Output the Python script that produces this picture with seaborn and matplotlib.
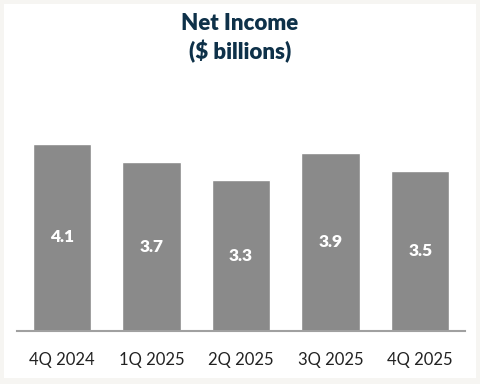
import matplotlib
matplotlib.use("Agg")
from matplotlib import pyplot as plt
from matplotlib.patches import Rectangle
import seaborn as sns
import pandas as pd

quarters = ["4Q 2024", "1Q 2025", "2Q 2025", "3Q 2025", "4Q 2025"]
net_income = [4.1, 3.7, 3.3, 3.9, 3.5]
bar_labels = ["4.1", "3.7", "3.3", "3.9", "3.5"]

df = pd.DataFrame({"quarter": quarters, "value": net_income})

sns.set_style("white")
plt.rcParams['font.family'] = ['Lato', 'DejaVu Sans']

fig = plt.figure(figsize=(4.8, 3.84), dpi=100, facecolor="#f6f5f2")
# white card behind everything
fig.patches.append(Rectangle((4 / 480, 6 / 384), 472 / 480, 374 / 384,
                             transform=fig.transFigure, facecolor="white",
                             edgecolor="none", zorder=-10))

ax = fig.add_axes([17 / 480, 1 - 331 / 384, 448 / 480, 231 / 384])
ax.set_zorder(1)
ax.set_facecolor("none")
sns.barplot(data=df, x="quarter", y="value", color="#8a8a8a", saturation=1,
            width=0.65, ax=ax)
ax.set_xlim(-0.5, 4.5)
ax.set_ylim(0, 5.06)

for i, (v, lab) in enumerate(zip(net_income, bar_labels)):
    ax.text(i, v / 2, lab, ha="center", va="center", color="white",
            fontsize=12.5, fontweight="heavy")

for s in ["top", "right", "left"]:
    ax.spines[s].set_visible(False)
ax.spines["bottom"].set_color("#a0a0a0")
ax.spines["bottom"].set_linewidth(1.5)
ax.set_yticks([])
ax.set_xlabel("")
ax.set_ylabel("")
ax.tick_params(axis="x", length=0, pad=15, labelsize=12, labelcolor="#222222")

fig.text(0.5, 1 - 23 / 384, "Net Income", ha="center", va="center",
         fontsize=16, fontweight="heavy", color="#0e3149", zorder=2)
fig.text(0.5, 1 - 52 / 384, "($ billions)", ha="center", va="center",
         fontsize=16, fontweight="heavy", color="#0e3149", zorder=2)

fig.savefig("out.png", dpi=100, facecolor=fig.get_facecolor())
